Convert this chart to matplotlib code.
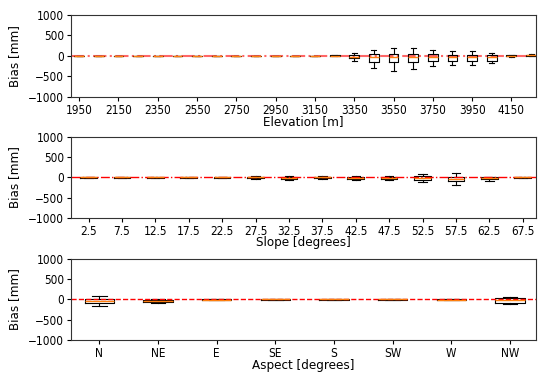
import matplotlib
matplotlib.use("Agg")
import matplotlib.pyplot as plt

plt.rcParams['font.family'] = ['DejaVu Sans']
plt.rcParams['font.stretch'] = 'condensed'
plt.rcParams['font.size'] = 8.5

# Elevation bands (m)
elev_labels = ['1950', '2050', '2150', '2250', '2350', '2450', '2550', '2650',
               '2750', '2850', '2950', '3050', '3150', '3250', '3350', '3450',
               '3550', '3650', '3750', '3850', '3950', '4050', '4150', '4250']
elev_med = [0, 0, 0, 0, 0, 0, 0, 0, 0, 0, 0, 0, 0, 0, -20, -40, -40, -40, -30, -30, -30, -40, 0, 10]
elev_q1 = [-2, -2, -2, -2, -2, -2, -2, -2, -2, -2, -2, -2, -3, -8, -50, -147, -160, -150, -135, -120, -135, -120, -15, 0]
elev_q3 = [2, 2, 2, 2, 2, 2, 2, 2, 2, 2, 2, 2, 3, 8, 15, 40, 40, 45, 35, 20, 25, 10, 15, 25]
elev_lo = [-3, -3, -3, -3, -3, -3, -3, -3, -3, -3, -3, -3, -5, -12, -120, -286, -360, -320, -260, -215, -225, -165, -30, -5]
elev_hi = [3, 3, 3, 3, 3, 3, 3, 3, 3, 3, 3, 3, 5, 12, 80, 147, 190, 180, 140, 110, 110, 80, 30, 35]

# Slope classes (degrees)
slope_labels = ['2.5', '7.5', '12.5', '17.5', '22.5', '27.5', '32.5',
                '37.5', '42.5', '47.5', '52.5', '57.5', '62.5', '67.5']
slope_med = [0, 0, 0, 0, 0, 0, -10, 0, -10, -10, -20, -40, -15, 0]
slope_q1 = [-2, -2, -2, -2, -8, -25, -45, -25, -40, -45, -65, -100, -45, -2]
slope_q3 = [2, 2, 2, 2, 5, 20, 20, 20, 20, 15, 30, 15, 5, 2]
slope_lo = [-3, -3, -3, -3, -12, -40, -60, -40, -55, -60, -125, -185, -80, -3]
slope_hi = [3, 3, 3, 3, 8, 35, 40, 35, 40, 35, 75, 100, 15, 3]

# Aspect sectors
aspect_labels = ['N', 'NE', 'E', 'SE', 'S', 'SW', 'W', 'NW']
aspect_med = [-40, -30, -5, 0, 0, 0, -5, -20]
aspect_q1 = [-85, -65, -10, -2, -2, -2, -12, -75]
aspect_q3 = [5, -5, 0, 2, 2, 2, 0, 40]
aspect_lo = [-160, -80, -15, -3, -3, -3, -15, -100]
aspect_hi = [90, 10, 5, 3, 3, 3, 5, 65]


def make_stats(labels, med, q1, q3, lo, hi):
    return [dict(label=l, med=m, q1=a, q3=b, whislo=w0, whishi=w1, fliers=[])
            for l, m, a, b, w0, w1 in zip(labels, med, q1, q3, lo, hi)]


fig = plt.figure(figsize=(5.39, 3.72), dpi=100)
left, right = 0.132, 0.994
ax1 = fig.add_axes([left, 0.740, right - left, 0.220])
ax2 = fig.add_axes([left, 0.415, right - left, 0.216])
ax3 = fig.add_axes([left, 0.086, right - left, 0.218])

box_kw = dict(showfliers=False, widths=0.5,
              boxprops=dict(color='black', linewidth=0.8),
              whiskerprops=dict(color='black', linewidth=0.8),
              capprops=dict(color='black', linewidth=0.8),
              medianprops=dict(color='#ff7f0e', linewidth=1.0))
label_kw = dict(fontsize=9.5, labelpad=-1)

# Elevation
ax1.bxp(make_stats(elev_labels, elev_med, elev_q1, elev_q3, elev_lo, elev_hi),
        positions=range(len(elev_labels)), **box_kw)
ax1.axhline(0, color='red', linestyle='-.', linewidth=1.5, alpha=0.6, zorder=0)
ax1.set_xticks(range(0, len(elev_labels), 2))
ax1.set_xticklabels(elev_labels[::2])
ax1.set_xlim(-0.41, 23.24)
ax1.set_xlabel('Elevation [m]', **label_kw)

# Slope
ax2.bxp(make_stats(slope_labels, slope_med, slope_q1, slope_q3, slope_lo, slope_hi),
        positions=range(len(slope_labels)), **box_kw)
ax2.axhline(0, color='red', linestyle='-.', linewidth=1.0)
ax2.set_xticks(range(len(slope_labels)))
ax2.set_xticklabels(slope_labels)
ax2.set_xlim(-0.52, 13.39)
ax2.set_xlabel('Slope [degrees]', **label_kw)

# Aspect
ax3.bxp(make_stats(aspect_labels, aspect_med, aspect_q1, aspect_q3, aspect_lo, aspect_hi),
        positions=range(len(aspect_labels)), **box_kw)
ax3.axhline(0, color='red', linestyle='--', linewidth=1.0)
ax3.set_xticks(range(len(aspect_labels)))
ax3.set_xticklabels(aspect_labels)
ax3.set_xlim(-0.48, 7.44)
ax3.set_xlabel('Aspect [degrees]', **label_kw)

for ax in (ax1, ax2, ax3):
    ax.set_ylim(-1000, 1000)
    ax.set_yticks([-1000, -500, 0, 500, 1000])
    ax.set_ylabel('Bias [mm]', fontsize=9.5, labelpad=5)
    ax.tick_params(labelsize=8.5, pad=2, length=3)
    for s in ax.spines.values():
        s.set_linewidth(0.8)
        s.set_color('#333333')

fig.savefig('out.png', dpi=100)
